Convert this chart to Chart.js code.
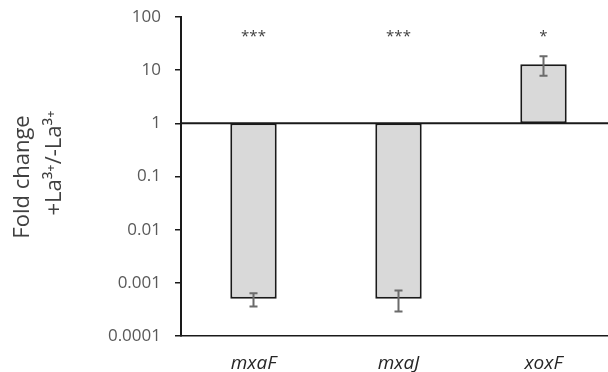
<!DOCTYPE html>
<html>
<head>
<meta charset="utf-8">
<script src="https://cdn.jsdelivr.net/npm/chart.js@4/dist/chart.umd.min.js"></script>
<style>
  html, body { margin: 0; padding: 0; background: #fff; overflow: hidden; }
  #wrap { width: 616px; height: 372px; }
</style>
</head>
<body>
<div id="wrap"><canvas id="chart"></canvas></div>
<script>
// data
const genes = ['mxaF', 'mxaJ', 'xoxF'];
const foldChange = [0.0005, 0.0005, 12.9];
const errLow = [0.00036, 0.00029, 7.85];
const errHigh = [0.00064, 0.00072, 18.3];
const stars = ['***', '***', '*'];
const starLevel = [43, 43, 43];
const yTicks = [0.0001, 0.001, 0.01, 0.1, 1, 10, 100];

const baseline = 1;
const fontFamily = "'Open Sans', 'Liberation Sans', sans-serif";

// baseline line at 1, error bars, stars and the axis title
const extrasPlugin = {
    id: 'extras',
    afterDatasetsDraw(chart) {
        const ctx = chart.ctx;
        const x = chart.scales.x;
        const y = chart.scales.y;
        const area = chart.chartArea;

        ctx.save();
        // line at fold change 1
        ctx.strokeStyle = '#1a1a1a';
        ctx.lineWidth = 2;
        ctx.beginPath();
        ctx.moveTo(area.left, y.getPixelForValue(baseline));
        ctx.lineTo(area.right + 2, y.getPixelForValue(baseline));
        ctx.stroke();

        // error bars
        ctx.strokeStyle = '#6b6b6b';
        ctx.lineWidth = 2;
        genes.forEach((g, i) => {
            const cx = x.getPixelForValue(i);
            const yl = y.getPixelForValue(errLow[i]);
            const yh = y.getPixelForValue(errHigh[i]);
            ctx.beginPath();
            ctx.moveTo(cx, yl); ctx.lineTo(cx, yh);
            ctx.moveTo(cx - 4, yl); ctx.lineTo(cx + 4, yl);
            ctx.moveTo(cx - 4, yh); ctx.lineTo(cx + 4, yh);
            ctx.stroke();
        });

        // significance stars
        ctx.fillStyle = '#404040';
        ctx.font = '15px ' + fontFamily;
        ctx.textAlign = 'center';
        ctx.textBaseline = 'middle';
        genes.forEach((g, i) => {
            ctx.fillText(stars[i], x.getPixelForValue(i), y.getPixelForValue(starLevel[i]));
        });

        // y axis title, two lines
        ctx.fillStyle = '#404040';
        ctx.font = '22px ' + fontFamily;
        ctx.save();
        ctx.translate(23, 177);
        ctx.rotate(-Math.PI / 2);
        ctx.fillText('Fold change', 0, 0);
        ctx.restore();
        ctx.save();
        ctx.translate(55, 163);
        ctx.rotate(-Math.PI / 2);
        ctx.fillText('+La\u00B3\u207A/-La\u00B3\u207A', 0, 0);
        ctx.restore();

        ctx.restore();
    }
};

new Chart(document.getElementById('chart'), {
    type: 'bar',
    data: {
        labels: genes,
        datasets: [{
            data: foldChange.map(v => [baseline, v]),
            backgroundColor: '#d9d9d9',
            borderColor: '#1a1a1a',
            borderWidth: 2,
            borderSkipped: false,
            barPercentage: 0.32,
            categoryPercentage: 1
        }]
    },
    options: {
        responsive: true,
        maintainAspectRatio: false,
        animation: false,
        layout: { padding: { top: 17, right: 0, left: 0, bottom: 0 } },
        plugins: {
            legend: { display: false },
            tooltip: { enabled: false }
        },
        scales: {
            x: {
                grid: { display: false },
                border: { color: '#1a1a1a', width: 1.5 },
                ticks: {
                    color: '#262626',
                    padding: 8,
                    font: { family: fontFamily, size: 19, style: 'italic' }
                },
                afterFit(scale) { scale.height = 36; }
            },
            y: {
                type: 'logarithmic',
                min: yTicks[0],
                max: yTicks[yTicks.length - 1],
                afterBuildTicks(scale) {
                    scale.ticks = yTicks.map(v => ({ value: v }));
                },
                grid: {
                    drawOnChartArea: false,
                    drawTicks: true,
                    tickLength: 6,
                    color: '#1a1a1a',
                    lineWidth: 1.5
                },
                border: { color: '#1a1a1a', width: 2 },
                ticks: {
                    color: '#595959',
                    padding: 14,
                    autoSkip: false,
                    font: { family: fontFamily, size: 17 },
                    callback: v => String(v)
                },
                afterFit(scale) {
                    scale.width = 181;
                    scale.paddingTop = 0;
                    scale.paddingBottom = 0;
                }
            }
        }
    },
    plugins: [extrasPlugin]
});
</script>
</body>
</html>
